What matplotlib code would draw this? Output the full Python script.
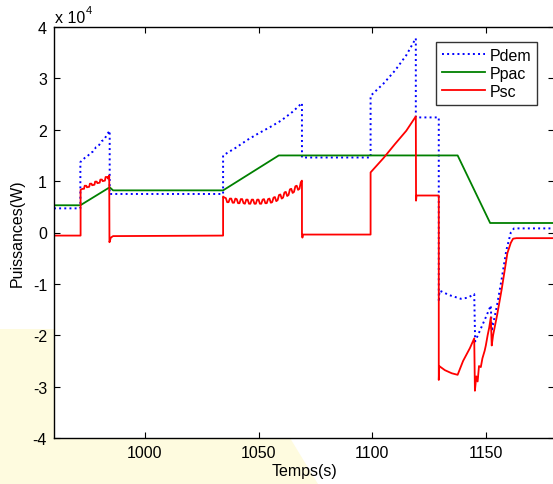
import matplotlib
matplotlib.use("Agg")
import matplotlib.pyplot as plt
from matplotlib.patches import Polygon
from matplotlib.ticker import FuncFormatter

plt.rcParams['font.family'] = ['Liberation Sans', 'DejaVu Sans']

# ---- data (power in W, time in s) ----
t_dem = [960, 971.6, 971.6, 973.5, 974.5, 976, 977, 978.5, 979.5, 981, 982, 983.5, 984.5,
         984.5, 1034.4, 1034.4, 1040, 1045, 1050, 1055, 1060, 1065, 1069.1,
         1069.1, 1099.3, 1099.3, 1105, 1110, 1115, 1119.2,
         1119.2, 1129.3, 1129.3, 1129.6, 1134, 1139, 1142, 1144.9,
         1145.3, 1148, 1150, 1152.2, 1152.6, 1155, 1157, 1159, 1161, 1162.4, 1180]
p_dem = [4700, 4700, 13700, 14500, 14700, 15500, 15700, 16600, 16800, 17800, 18000, 19200, 19800,
         7500, 7500, 15000, 16500, 18000, 19300, 20500, 21800, 23500, 25200,
         14600, 14600, 26600, 29000, 31500, 34500, 37800,
         22400, 22400, -13500, -11300, -12200, -12900, -12700, -12000,
         -21200, -18500, -16500, -14200, -19200, -14000, -9000, -3500, 0, 800, 800]

t_pac = [960, 971.6, 984.5, 986, 1034.4, 1058.9, 1137.6, 1151.9, 1180]
p_pac = [5300, 5300, 8800, 8200, 8200, 15000, 15000, 1850, 1850]

t_sc = [960, 971.7, 971.7, 972.5, 973.2, 973.5, 974.2, 974.5, 975.5, 975.8, 976.5, 976.8,
        977.8, 978.1, 978.8, 979.1, 980.1, 980.4, 981.1, 981.4, 982.4, 982.7, 983.4,
        983.7, 984.3, 984.4, 985, 986, 1034.4,
        1034.4, 1035.0, 1035.6, 1036.2, 1036.8, 1037.4, 1038.0, 1038.6, 1039.2, 1039.8,
        1040.4, 1041.0, 1041.6, 1042.2, 1042.8, 1043.4, 1044.0, 1044.6, 1045.2, 1045.8,
        1046.4, 1047.0, 1047.6, 1048.2, 1048.8, 1049.4, 1050.0, 1050.6, 1051.2, 1051.8,
        1052.4, 1053.0, 1053.6, 1054.2, 1054.8, 1055.4, 1056.0, 1056.6, 1057.2, 1057.8,
        1058.4, 1059.0, 1059.6, 1060.2, 1060.8, 1061.4, 1062.0, 1062.6, 1063.2, 1063.8,
        1064.4, 1065.0, 1065.6, 1066.2, 1066.8, 1067.4, 1068.0, 1068.6, 1069.1,
        1069.1, 1069.3, 1069.6, 1099.3, 1099.3, 1105, 1110, 1115, 1119.2,
        1119.3, 1119.5, 1129.3, 1129.3, 1129.5, 1132, 1135, 1137.6, 1140, 1143, 1144.9,
        1145.2, 1145.8, 1146.4, 1147, 1147.8, 1148.5, 1149.5, 1150, 1150.8, 1151.5,
        1152.2, 1152.6, 1153.2, 1155, 1157, 1159.5, 1161, 1162, 1163.5, 1180]
p_sc = [-600, -600, 8300, 8500, 8500, 9100, 9100, 8800, 8900, 9500, 9500, 9200,
        9300, 9900, 9900, 9600, 9700, 10300, 10300, 10000, 10100, 10800, 10800,
        10500, 11100, -1900, -1000, -700, -600,
        7000, 6800, 6700, 5900, 5900, 6600, 6600, 5800, 5800, 6600,
        6500, 5700, 5700, 6500, 6500, 5700, 5600, 6400, 6400, 5600,
        5600, 6400, 6400, 5600, 5600, 6400, 6400, 5600, 5600, 6400,
        6500, 5700, 5700, 6500, 6600, 5800, 5900, 6800, 6900, 6100,
        6300, 7300, 7400, 6600, 6800, 7800, 7900, 7100, 7300, 8400,
        8500, 7700, 7900, 9000, 9100, 8300, 8500, 9800, 10100,
        -400, -1000, -400, -400, 11700, 14500, 17200, 19800, 22600,
        6200, 7200, 7200, -28700, -26000, -26800, -27400, -27700, -25000, -22500, -20600,
        -30800, -28000, -29000, -26000, -26200, -24500, -23000, -22000, -20000, -18500,
        -16500, -22000, -20000, -16000, -11000, -4000, -2000, -1200, -1100, -1100]

x_ticks = [1000, 1050, 1100, 1150]
y_ticks = [-40000, -30000, -20000, -10000, 0, 10000, 20000, 30000, 40000]

W, H = 553, 485
fig = plt.figure(figsize=(W / 100, H / 100), dpi=100)

ax = fig.add_axes([54 / W, 1 - 439 / H, 500 / W, 411 / H])
ax.set_facecolor('white')

# faint watermark in the background (behind the axes)
wm = Polygon([[0 / W, 1 - 330 / H], [54 / W, 1 - 330 / H], [54 / W, 1 - 439 / H],
              [290 / W, 1 - 439 / H], [318 / W, 1 - 485 / H], [0, 0]],
             closed=True, transform=fig.transFigure, facecolor='#fefbdf',
             edgecolor='none', zorder=-10)
fig.patches.append(wm)
ax.set_zorder(1)

ax.plot(t_dem, p_dem, color=(0, 0, 1), linestyle=':', linewidth=1.4, label='Pdem')
ax.plot(t_pac, p_pac, color=(0, 0.5, 0), linestyle='-', linewidth=1.3, label='Ppac')
ax.plot(t_sc, p_sc, color=(1, 0, 0), linestyle='-', linewidth=1.3, label='Psc')

ax.set_xlim(960, 1180)
ax.set_ylim(-40000, 40000)
ax.set_xticks(x_ticks)
ax.set_yticks(y_ticks)
ax.yaxis.set_major_formatter(FuncFormatter(lambda v, p: '%d' % round(v / 1e4)))
ax.tick_params(direction='in', top=True, right=True, length=4, width=0.8,
               labelsize=11.5, pad=5, colors='black')
for s in ax.spines.values():
    s.set_linewidth(1.0)
    s.set_color('black')

ax.set_xlabel('Temps(s)', fontsize=11.5, labelpad=2)
ax.set_ylabel('Puissances(W)', fontsize=11.5, labelpad=6)

fig.text(55 / W, 1 - 23 / H, 'x 10', fontsize=11.5, ha='left', va='baseline')
fig.text(86 / W, 1 - 14 / H, '4', fontsize=8, ha='left', va='baseline')

leg = ax.legend(loc='upper right', bbox_to_anchor=((537 - 54) / 500, 1 - (43 - 28) / 411),
                fontsize=11.5, frameon=True, fancybox=False, handlelength=2.7,
                handletextpad=0.3, borderpad=0.35, labelspacing=0.2, borderaxespad=0)
leg.get_frame().set_edgecolor('black')
leg.get_frame().set_linewidth(1.0)

fig.savefig('out.png', dpi=100)
